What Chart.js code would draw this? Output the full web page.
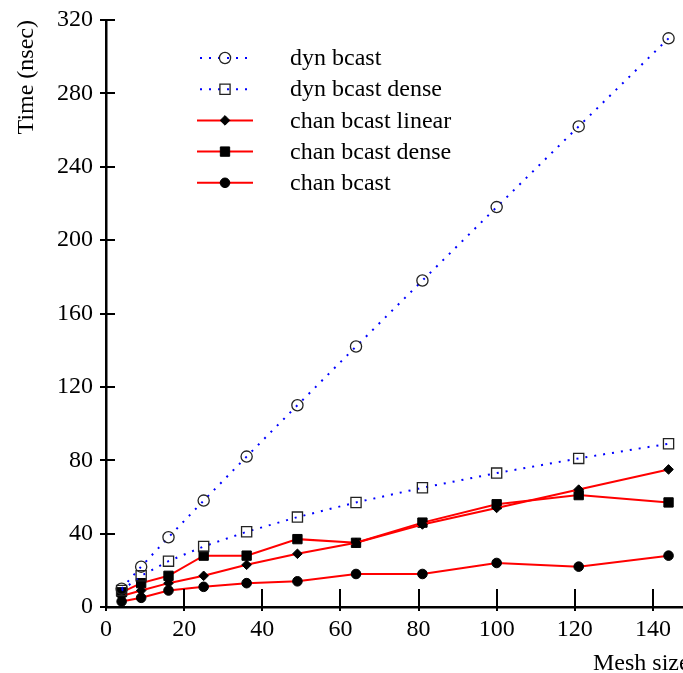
<!DOCTYPE html>
<html>
<head>
<meta charset="utf-8">
<script src="https://cdn.jsdelivr.net/npm/chart.js@4"></script>
<style>
html,body{margin:0;padding:0;background:#fff;overflow:hidden;}
#wrap{width:683px;height:673px;position:relative;}
</style>
</head>
<body>
<div id="wrap"><canvas id="c" width="683" height="673"></canvas></div>
<script>
const meshSizes = [4, 9, 16, 25, 36, 49, 64, 81, 100, 121, 144];
const dynBcast = [10, 22, 38, 58, 82, 110, 142, 178, 218, 262, 310];
const dynBcastDense = [9, 17, 25, 33, 41, 49, 57, 65, 73, 81, 89];
const chanBcastLinear = [6, 9, 13, 17, 23, 29, 35, 45, 54, 64, 75];
const chanBcastDense = [8, 13, 17, 28, 28, 37, 35, 46, 56, 61, 57];
const chanBcast = [3, 5, 9, 11, 13, 14, 18, 18, 24, 22, 28];
const xTicks = [0, 20, 40, 60, 80, 100, 120, 140];
const yTicks = [0, 40, 80, 120, 160, 200, 240, 280, 320];
const seriesNames = ['dyn bcast', 'dyn bcast dense', 'chan bcast linear', 'chan bcast dense', 'chan bcast'];

const FONT = '"Liberation Serif", "DejaVu Serif", serif';
const pts = arr => meshSizes.map((x, i) => ({x: x, y: arr[i]}));

const BLUE = 'rgb(0,0,255)', RED = 'rgb(255,0,0)';

const datasets = [
  {label: seriesNames[0], data: pts(dynBcast), borderColor: BLUE, borderWidth: 2, borderDash: [2, 7],
   pointStyle: 'circle', pointRadius: 5.6, pointBorderColor: '#222', pointBackgroundColor: 'rgba(0,0,0,0)', pointBorderWidth: 1.3},
  {label: seriesNames[1], data: pts(dynBcastDense), borderColor: BLUE, borderWidth: 2, borderDash: [2, 7],
   pointStyle: 'rect', pointRadius: 7.2, pointBorderColor: '#222', pointBackgroundColor: 'rgba(0,0,0,0)', pointBorderWidth: 1.3},
  {label: seriesNames[2], data: pts(chanBcastLinear), borderColor: RED, borderWidth: 2,
   pointStyle: 'rectRot', pointRadius: 4.8, pointBorderColor: '#000', pointBackgroundColor: '#000', pointBorderWidth: 1},
  {label: seriesNames[3], data: pts(chanBcastDense), borderColor: RED, borderWidth: 2,
   pointStyle: 'rect', pointRadius: 6.6, pointBorderColor: '#000', pointBackgroundColor: '#000', pointBorderWidth: 1},
  {label: seriesNames[4], data: pts(chanBcast), borderColor: RED, borderWidth: 2,
   pointStyle: 'circle', pointRadius: 4.8, pointBorderColor: '#000', pointBackgroundColor: '#000', pointBorderWidth: 1}
];
datasets.forEach(d => { d.tension = 0; d.fill = false; d.pointHoverRadius = d.pointRadius; d.clip = false; });

const decor = {
  id: 'decor',
  afterDraw(chart) {
    const ctx = chart.ctx, a = chart.chartArea;
    const xs = chart.scales.x, ys = chart.scales.y;
    ctx.save();
    // ticks crossing the axes
    ctx.strokeStyle = '#000';
    ctx.lineWidth = 2;
    ctx.beginPath();
    yTicks.forEach(v => {
      const py = Math.round(ys.getPixelForValue(v));
      ctx.moveTo(a.left - 6, py); ctx.lineTo(a.left + 9, py);
    });
    xTicks.forEach(v => {
      const px = Math.round(xs.getPixelForValue(v));
      ctx.moveTo(px, a.bottom + 4); ctx.lineTo(px, a.bottom - 18);
    });
    ctx.stroke();
    // axis titles
    ctx.fillStyle = '#000';
    ctx.font = '24px ' + FONT;
    ctx.textBaseline = 'alphabetic';
    ctx.textAlign = 'left';
    ctx.fillText('Mesh size', a.right - 90, a.bottom + 63);
    ctx.translate(33, a.top);
    ctx.rotate(-Math.PI / 2);
    ctx.textAlign = 'right';
    ctx.fillText('Time (nsec)', 0, 0);
    ctx.restore();

    // legend
    ctx.save();
    const lx0 = 197, lx1 = 253, tx = 290, y0 = 58, dy = 31.2;
    chart.data.datasets.forEach((d, i) => {
      const y = y0 + i * dy;
      ctx.strokeStyle = d.borderColor;
      ctx.lineWidth = d.borderWidth;
      ctx.setLineDash(d.borderDash || []);
      ctx.beginPath();
      ctx.moveTo(lx0 + (d.borderDash ? 3 : 0), y); ctx.lineTo(lx1, y);
      ctx.stroke();
      ctx.setLineDash([]);
      ctx.fillStyle = d.pointBackgroundColor;
      ctx.strokeStyle = d.pointBorderColor;
      ctx.lineWidth = d.pointBorderWidth;
      Chart.helpers.drawPoint(ctx, {
        pointStyle: d.pointStyle,
        radius: d.pointRadius,
        borderWidth: d.pointBorderWidth,
        rotation: 0
      }, (lx0 + lx1) / 2, y);
      ctx.fillStyle = '#000';
      ctx.font = '24px ' + FONT;
      ctx.textAlign = 'left';
      ctx.textBaseline = 'middle';
      ctx.fillText(d.label, tx, y + 1);
    });
    ctx.restore();
  }
};

new Chart(document.getElementById('c'), {
  type: 'line',
  data: {datasets: datasets},
  plugins: [decor],
  options: {
    responsive: false,
    animation: false,
    events: [],
    layout: {autoPadding: false, padding: {top: 20, left: 0, right: 0, bottom: 0}},
    plugins: {legend: {display: false}, tooltip: {enabled: false}},
    scales: {
      x: {
        type: 'linear', min: 0, max: 147.7,
        afterBuildTicks: s => { s.ticks = xTicks.map(v => ({value: v})); },
        afterFit: s => { s.height = 66; s.paddingLeft = 0; s.paddingRight = 0; },
        grid: {display: true, drawOnChartArea: false, drawTicks: false},
        border: {display: true, color: '#000', width: 2.5},
        ticks: {color: '#000', font: {family: FONT, size: 24}, padding: 8, maxRotation: 0}
      },
      y: {
        type: 'linear', min: 0, max: 320,
        afterBuildTicks: s => { s.ticks = yTicks.map(v => ({value: v})); },
        afterFit: s => { s.width = 106; s.paddingTop = 0; s.paddingBottom = 0; },
        grid: {display: true, drawOnChartArea: false, drawTicks: false},
        border: {display: true, color: '#000', width: 2.5},
        ticks: {color: '#000', font: {family: FONT, size: 24}, padding: 13}
      }
    }
  }
});
</script>
</body>
</html>
